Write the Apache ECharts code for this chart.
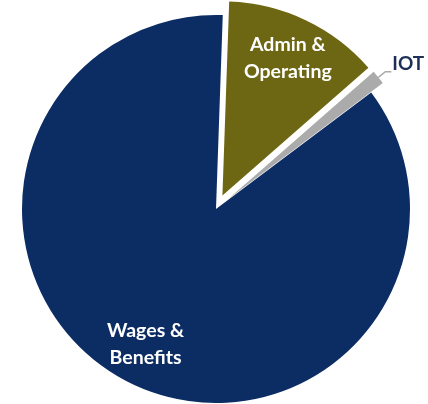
<!DOCTYPE html>
<html><head><meta charset="utf-8">
<script src="https://cdn.jsdelivr.net/npm/echarts@6/dist/echarts.min.js"></script>
<style>html,body{margin:0;padding:0;background:#fff}#c{width:428px;height:404px}</style>
</head><body><div id="c"></div>
<script>
const categories = ['Admin &\nOperating', 'IOT', 'Wages &\nBenefits'];
const values = [13.0, 1.2, 85.8];
const colors = ['#6d6612', '#ababab', '#0c2d64'];
const exploded = [true, true, false];

const chart = echarts.init(document.getElementById('c'));
const font = 'Lato, "Open Sans", sans-serif';
const center = [216, 209];
const R = 194;

function shapeData() {
  return categories.map((n, i) => ({
    name: n, value: values[i], selected: exploded[i],
    itemStyle: { color: colors[i] },
    label: i === 1 ? {
      show: true, position: 'outside', color: '#1b2f57', fontSize: 19, fontWeight: 'bold', fontFamily: font,
      formatter: '{b}', distanceToLabelLine: 5
    } : { show: false },
    labelLine: i === 1 ? { show: true, length: 9, length2: 6, lineStyle: { color: '#aaaaaa', width: 1.5 } } : { show: false }
  }));
}
function labelData() {
  return categories.map((n, i) => ({
    name: n, value: values[i], selected: exploded[i],
    itemStyle: { color: 'rgba(0,0,0,0)' },
    label: { show: i !== 1 }
  }));
}

chart.setOption({
  animation: false,
  series: [{
    type: 'pie', center: center, radius: [0, R], startAngle: 88, clockwise: true,
    selectedMode: 'multiple', selectedOffset: 15, avoidLabelOverlap: false,
    emphasis: { disabled: true },
    labelLayout: function (p) { return p.dataIndex === 1 ? { dy: -8, dx: -4 } : {}; },
    data: shapeData()
  }, {
    type: 'pie', center: center, radius: [R * 0.54, R], startAngle: 88, clockwise: true,
    selectedMode: 'multiple', selectedOffset: 15, avoidLabelOverlap: false, silent: true,
    emphasis: { disabled: true },
    label: { position: 'inside', color: '#ffffff', fontSize: 19.5, fontWeight: 'bold', fontFamily: font, lineHeight: 27, formatter: '{b}' },
    labelLine: { show: false },
    data: labelData()
  }]
});
</script></body></html>
